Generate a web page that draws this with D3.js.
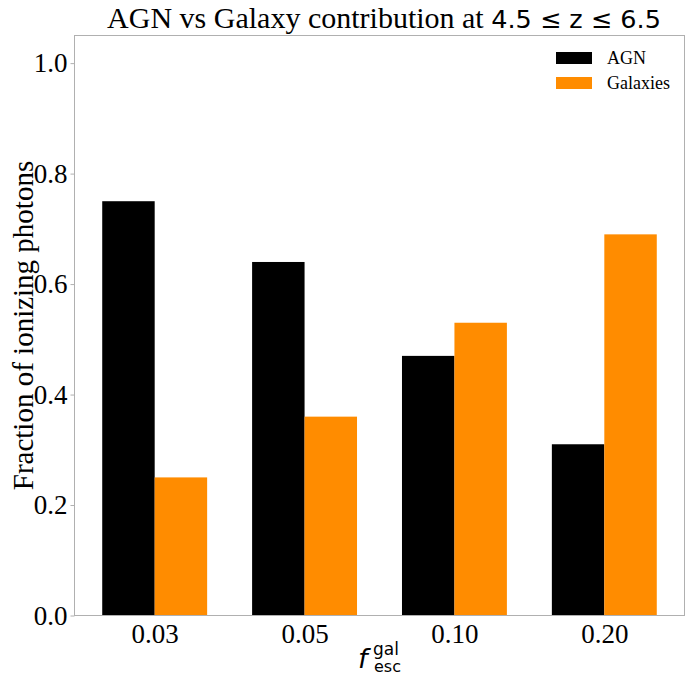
<!DOCTYPE html>
<html>
<head>
<meta charset="utf-8">
<script src="https://cdn.jsdelivr.net/npm/d3@7"></script>
<style>
  html, body { margin: 0; padding: 0; background: #fff; }
  svg { display: block; }
</style>
</head>
<body>
<svg width="689" height="677"></svg>
<script>
const categories = ["0.03", "0.05", "0.10", "0.20"];
const agnValues = [0.75, 0.64, 0.47, 0.31];
const galaxyValues = [0.25, 0.36, 0.53, 0.69];
const yTicks = [0.0, 0.2, 0.4, 0.6, 0.8, 1.0];
const seriesNames = ["AGN", "Galaxies"];

const SERIF = "'Liberation Serif', 'Times New Roman', serif";
const SANS = "'DejaVu Sans', sans-serif";
const FRAME = "#b0b0b0";
const BAR_W = 0.35;

const box = { left: 74.5, right: 684.5, top: 35.5, bottom: 615.5 };
const colors = ["#000000", "#ff8c00"];

const svg = d3.select("svg");

const x = d3.scaleLinear()
  .domain([-0.535, categories.length - 1 + 0.535])
  .range([box.left, box.right]);

const y = d3.scaleLinear()
  .domain([0, 1.05])
  .range([box.bottom, box.top]);

// bars
const series = [agnValues, galaxyValues];
series.forEach((vals, s) => {
  svg.append("g")
    .selectAll("rect")
    .data(vals)
    .enter()
    .append("rect")
    .attr("x", (d, i) => x(i + (s === 0 ? -BAR_W : 0)))
    .attr("width", x(BAR_W) - x(0))
    .attr("y", d => y(d))
    .attr("height", d => y(0) - y(d))
    .attr("fill", colors[s]);
});

// y axis
const yAxis = svg.append("g")
  .attr("transform", `translate(${box.left},0)`)
  .call(d3.axisLeft(y).tickValues(yTicks).tickFormat(d3.format(".1f")).tickSize(4).tickPadding(3));
yAxis.select(".domain").remove();
yAxis.selectAll(".tick line").attr("stroke", FRAME);
yAxis.selectAll(".tick text")
  .attr("font-family", SERIF)
  .attr("font-size", 27)
  .attr("fill", "#000");

// x axis
const xAxis = svg.append("g")
  .attr("transform", `translate(0,${box.bottom})`)
  .call(d3.axisBottom(x).tickValues(d3.range(categories.length)).tickFormat(i => categories[i]).tickSize(0).tickPadding(8));
xAxis.select(".domain").remove();
xAxis.selectAll(".tick text")
  .attr("font-family", SERIF)
  .attr("font-size", 27)
  .attr("fill", "#000");

// frame
svg.append("rect")
  .attr("x", box.left)
  .attr("y", box.top)
  .attr("width", box.right - box.left)
  .attr("height", box.bottom - box.top)
  .attr("fill", "none")
  .attr("stroke", FRAME)
  .attr("stroke-width", 1);

// title
const title = svg.append("text")
  .attr("x", 384)
  .attr("y", 28)
  .attr("text-anchor", "middle");
title.append("tspan")
  .attr("font-family", SERIF)
  .attr("font-size", 30)
  .text("AGN vs Galaxy contribution at ");
title.append("tspan")
  .attr("font-family", SANS)
  .attr("font-size", 25.5)
  .text("4.5 \u2264 z \u2264 6.5");

// y label
svg.append("text")
  .attr("transform", `translate(33,${(box.top + box.bottom) / 2}) rotate(-90)`)
  .attr("text-anchor", "middle")
  .attr("font-family", SERIF)
  .attr("font-size", 29)
  .text("Fraction of ionizing photons");

// x label: f_esc^gal
const xl = svg.append("g").attr("font-family", SANS);
xl.append("text")
  .attr("x", 358)
  .attr("y", 668)
  .attr("font-size", 27)
  .attr("font-style", "italic")
  .text("f");
xl.append("text")
  .attr("x", 373)
  .attr("y", 655)
  .attr("font-size", 17)
  .text("gal");
xl.append("text")
  .attr("x", 374)
  .attr("y", 672)
  .attr("font-size", 16)
  .text("esc");

// legend
const legend = svg.append("g");
seriesNames.forEach((name, i) => {
  legend.append("rect")
    .attr("x", 556)
    .attr("y", 52 + i * 25)
    .attr("width", 36)
    .attr("height", 12)
    .attr("fill", colors[i]);
  legend.append("text")
    .attr("x", 607)
    .attr("y", 64 + i * 25)
    .attr("font-family", SERIF)
    .attr("font-size", 18)
    .text(name);
});
</script>
</body>
</html>
